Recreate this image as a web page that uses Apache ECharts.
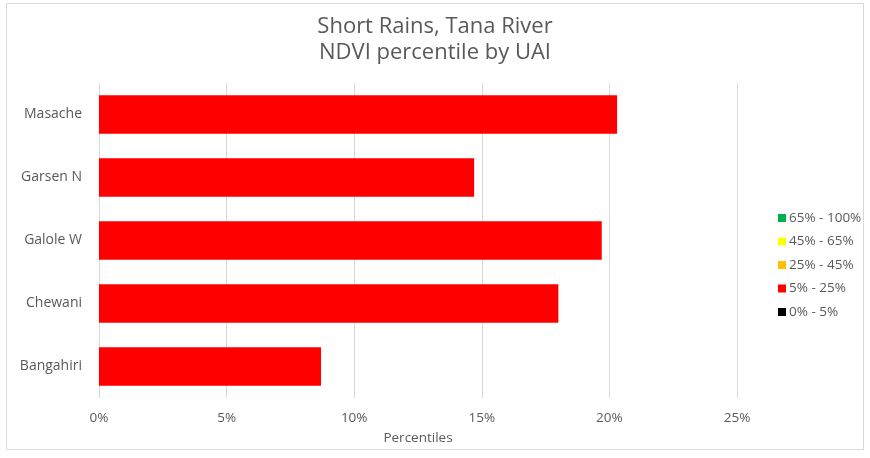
<!DOCTYPE html>
<html>
<head>
<meta charset="utf-8">
<script src="https://cdn.jsdelivr.net/npm/echarts@6/dist/echarts.min.js"></script>
<style>
  html,body{margin:0;padding:0;background:#fff;}
  #chart{width:870px;height:458px;}
</style>
</head>
<body>
<div id="chart"></div>
<script>
// categories top to bottom as in the picture
const uais = ['Masache', 'Garsen N', 'Galole W', 'Chewani', 'Bangahiri'];
// NDVI percentile (%) per UAI, all fall in 5% - 25% class
const pct5to25 = [20.3, 14.7, 19.7, 18.0, 8.7];
const classNames = ['65% - 100%', '45% - 65%', '25% - 45%', '5% - 25%', '0% - 5%'];
const classColors = ['#00b050', '#ffff00', '#ffc000', '#ff0000', '#000000'];
const xTicks = [0, 5, 10, 15, 20, 25];

const chart = echarts.init(document.getElementById('chart'));
const font = 'Open Sans';
const txt = '#595959';

const series = classNames.map((name, i) => ({
  name,
  type: 'bar',
  stack: 'ndvi',
  barWidth: '61%',
  itemStyle: { color: classColors[i] },
  data: name === '5% - 25%' ? pct5to25.slice().reverse() : uais.map(() => null)
}));

chart.setOption({
  animation: false,
  backgroundColor: '#fff',
  textStyle: { fontFamily: font },
  title: {
    text: 'Short Rains, Tana River\nNDVI percentile by UAI',
    left: 'center', top: 9,
    textStyle: { fontFamily: font, fontSize: 22, fontWeight: 'normal', color: txt, lineHeight: 26 }
  },
  grid: { left: 99, right: 133, top: 83, bottom: 60 },
  legend: {
    orient: 'vertical', left: 773, top: 206, itemGap: 9.5,
    itemWidth: 8, itemHeight: 8,
    data: classNames.map(n => ({ name: n, icon: 'rect' })),
    textStyle: { fontFamily: font, fontSize: 13.5, color: txt, padding: [0, 0, 0, -2] }
  },
  xAxis: {
    type: 'value', min: xTicks[0], max: xTicks[xTicks.length - 1], interval: 5,
    name: 'Percentiles', nameLocation: 'middle', nameGap: 33,
    nameTextStyle: { fontFamily: font, fontSize: 13.5, color: txt },
    axisLine: { show: false }, axisTick: { show: false },
    axisLabel: { formatter: '{value}%', color: txt, fontSize: 13.5, margin: 13, fontFamily: font },
    splitLine: { lineStyle: { color: '#d9d9d9', width: 1 } }
  },
  yAxis: {
    type: 'category', data: uais.slice().reverse(),
    axisLine: { show: false }, axisTick: { show: false },
    axisLabel: { color: txt, fontSize: 14, margin: 17, fontFamily: font }
  },
  series,
  graphic: [{
    type: 'rect', shape: { x: 6.5, y: 3.5, width: 857, height: 446 },
    style: { fill: 'none', stroke: '#d9d9d9', lineWidth: 1 }, silent: true
  }]
});
</script>
</body>
</html>
